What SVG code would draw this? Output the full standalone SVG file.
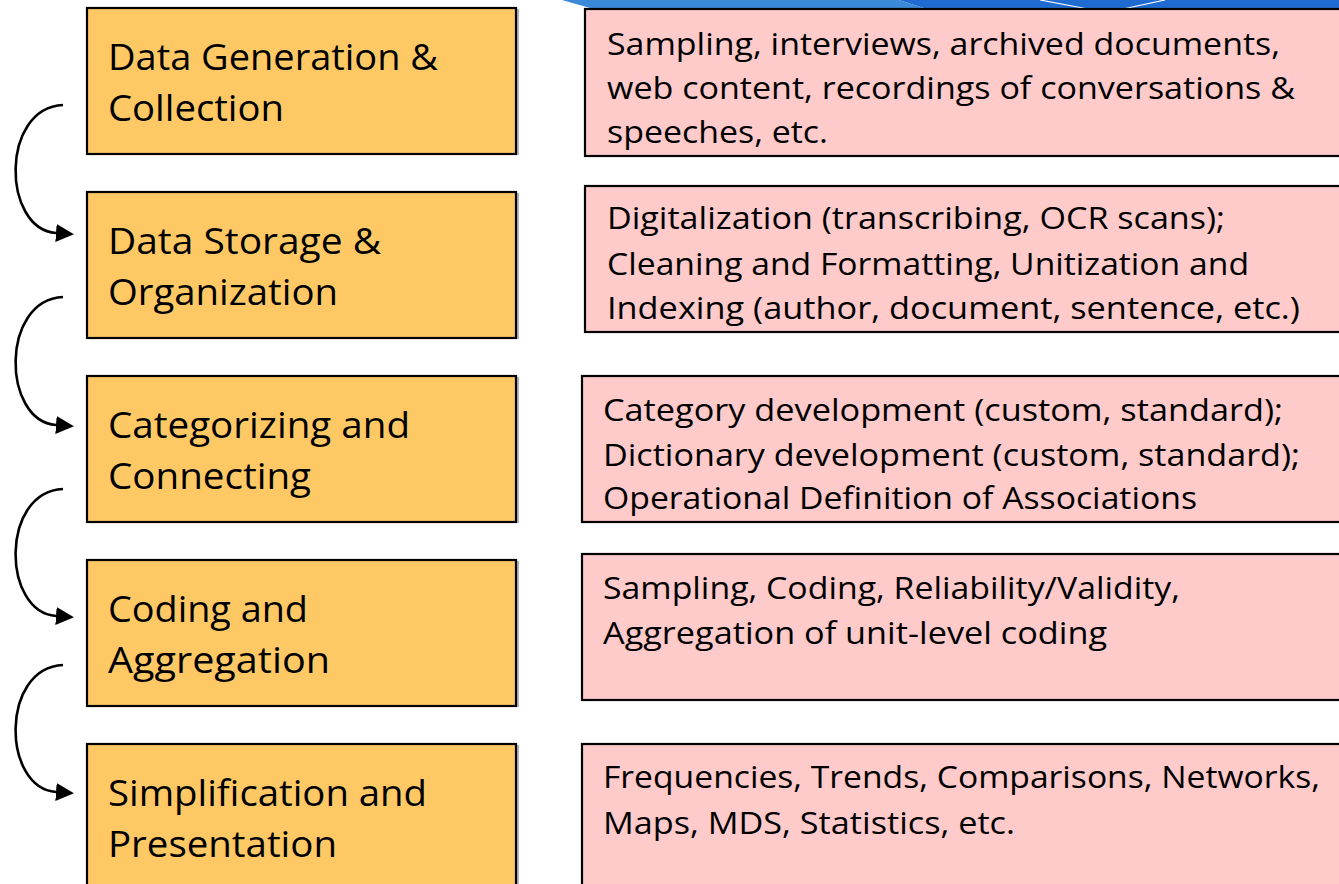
<svg xmlns="http://www.w3.org/2000/svg" width="1339" height="884" viewBox="0 0 1339 884">
<style>
.ob{fill:#fec965;stroke:#000;stroke-width:2.2}
.sh{fill:#b4b4b4}
.pb{fill:#ffcaca;stroke:#000;stroke-width:2.2}
.ot{font-family:"Open Sans","Liberation Sans",sans-serif;font-size:37px;fill:#000}
.pt{font-family:"Open Sans","Liberation Sans",sans-serif;font-size:31px;fill:#000}
.cn{fill:none;stroke:#000;stroke-width:2.6}
</style>
<defs>
<marker id="ah" markerUnits="userSpaceOnUse" markerWidth="18" markerHeight="18" refX="0" refY="8" orient="auto" viewBox="0 0 16 16">
<path d="M0,0 L16,8 L0,16 z" fill="#000"/>
</marker>
</defs>
<rect width="1339" height="884" fill="#fff"/>
<g id="banner">
<polygon points="562,0 899,0 930,10 597,10" fill="#3a8ad9"/>
<polygon points="899,0 1339,0 1339,10 930,10" fill="#1f6bd1"/>
<line x1="1040" y1="0" x2="1088" y2="9" stroke="#fff" stroke-width="1.2"/>
<line x1="1123" y1="9" x2="1165" y2="0" stroke="#fff" stroke-width="1.2"/>
</g>
<g id="connectors">
<path class="cn" d="M63,105 C0,108 2,229 56,233" marker-end="url(#ah)"/>
<path class="cn" d="M63,297 C0,300 2,421 56,425" marker-end="url(#ah)"/>
<path class="cn" d="M63,489 C0,492 2,612 56,616" marker-end="url(#ah)"/>
<path class="cn" d="M63,665 C0,668 2,788 56,792" marker-end="url(#ah)"/>
</g>
<g id="step1">
<rect class="sh" x="89" y="9" width="430" height="146"/>
<rect class="ob" x="87" y="8" width="429" height="146"/>
<text class="ot" x="108" y="70" textLength="330" lengthAdjust="spacingAndGlyphs">Data Generation &amp;</text>
<text class="ot" x="108" y="121" textLength="176" lengthAdjust="spacingAndGlyphs">Collection</text>
</g>
<g id="step2">
<rect class="sh" x="89" y="193" width="430" height="146"/>
<rect class="ob" x="87" y="192" width="429" height="146"/>
<text class="ot" x="108" y="254" textLength="273" lengthAdjust="spacingAndGlyphs">Data Storage &amp;</text>
<text class="ot" x="108" y="305" textLength="230" lengthAdjust="spacingAndGlyphs">Organization</text>
</g>
<g id="step3">
<rect class="sh" x="89" y="377" width="430" height="146"/>
<rect class="ob" x="87" y="376" width="429" height="146"/>
<text class="ot" x="108" y="438" textLength="302" lengthAdjust="spacingAndGlyphs">Categorizing and</text>
<text class="ot" x="108" y="489" textLength="203" lengthAdjust="spacingAndGlyphs">Connecting</text>
</g>
<g id="step4">
<rect class="sh" x="89" y="561" width="430" height="146"/>
<rect class="ob" x="87" y="560" width="429" height="146"/>
<text class="ot" x="108" y="622" textLength="200" lengthAdjust="spacingAndGlyphs">Coding and</text>
<text class="ot" x="108" y="673" textLength="222" lengthAdjust="spacingAndGlyphs">Aggregation</text>
</g>
<g id="step5">
<rect class="sh" x="89" y="745" width="430" height="146"/>
<rect class="ob" x="87" y="744" width="429" height="146"/>
<text class="ot" x="108" y="806" textLength="319" lengthAdjust="spacingAndGlyphs">Simplification and</text>
<text class="ot" x="108" y="857" textLength="229" lengthAdjust="spacingAndGlyphs">Presentation</text>
</g>
<g id="detail1">
<rect class="pb" x="585" y="9" width="770" height="147"/>
<text class="pt" x="607" y="55" textLength="673" lengthAdjust="spacingAndGlyphs">Sampling, interviews, archived documents,</text>
<text class="pt" x="607" y="99" textLength="688" lengthAdjust="spacingAndGlyphs">web content, recordings of conversations &amp;</text>
<text class="pt" x="607" y="143" textLength="221" lengthAdjust="spacingAndGlyphs">speeches, etc.</text>
</g>
<g id="detail2">
<rect class="pb" x="585" y="186" width="770" height="146"/>
<text class="pt" x="607" y="229" textLength="618" lengthAdjust="spacingAndGlyphs">Digitalization (transcribing, OCR scans);</text>
<text class="pt" x="607" y="275" textLength="642" lengthAdjust="spacingAndGlyphs">Cleaning and Formatting, Unitization and</text>
<text class="pt" x="607" y="319" textLength="693" lengthAdjust="spacingAndGlyphs">Indexing (author, document, sentence, etc.)</text>
</g>
<g id="detail3">
<rect class="pb" x="582" y="376" width="770" height="146"/>
<text class="pt" x="603" y="421" textLength="680" lengthAdjust="spacingAndGlyphs">Category development (custom, standard);</text>
<text class="pt" x="603" y="466" textLength="697" lengthAdjust="spacingAndGlyphs">Dictionary development (custom, standard);</text>
<text class="pt" x="603" y="509" textLength="594" lengthAdjust="spacingAndGlyphs">Operational Definition of Associations</text>
</g>
<g id="detail4">
<rect class="pb" x="582" y="554" width="770" height="146"/>
<text class="pt" x="603" y="599" textLength="577" lengthAdjust="spacingAndGlyphs">Sampling, Coding, Reliability/Validity,</text>
<text class="pt" x="603" y="644" textLength="504" lengthAdjust="spacingAndGlyphs">Aggregation of unit-level coding</text>
</g>
<g id="detail5">
<rect class="pb" x="582" y="744" width="770" height="150"/>
<text class="pt" x="603" y="788" textLength="717" lengthAdjust="spacingAndGlyphs">Frequencies, Trends, Comparisons, Networks,</text>
<text class="pt" x="603" y="834" textLength="412" lengthAdjust="spacingAndGlyphs">Maps, MDS, Statistics, etc.</text>
</g>
</svg>
